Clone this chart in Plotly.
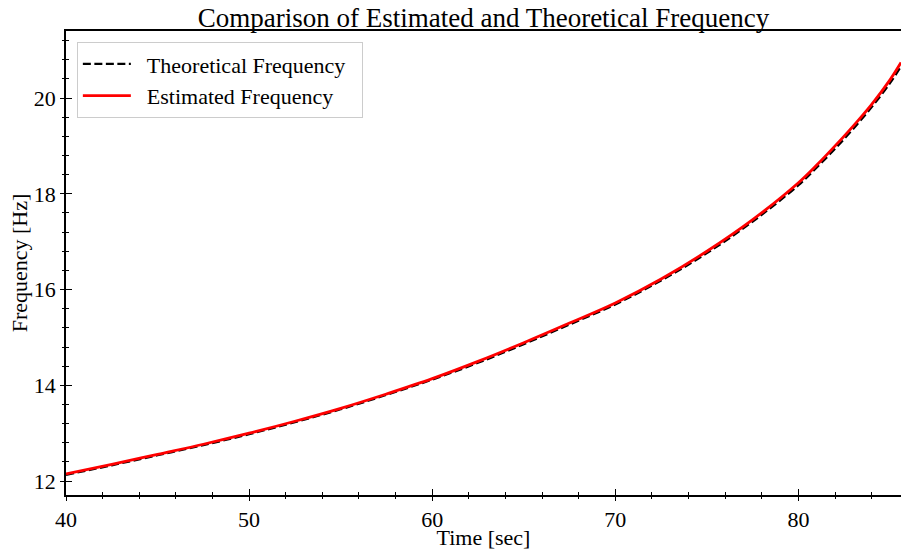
import plotly.graph_objects as go

time_s = [40, 42.5, 45, 47.5, 50, 52.5, 55, 57.5, 60, 62.5, 65, 67.5, 70,
          72.5, 75, 77.5, 80, 81, 82, 83, 84, 85, 85.6]
estimated_hz = [12.15, 12.35, 12.56, 12.77, 13.00, 13.25, 13.52, 13.82, 14.14,
                14.50, 14.89, 15.30, 15.72, 16.22, 16.80, 17.46, 18.23, 18.60,
                19.00, 19.42, 19.87, 20.38, 20.74]
theoretical_hz = [12.13, 12.33, 12.54, 12.75, 12.98, 13.23, 13.50, 13.80, 14.12,
                  14.47, 14.86, 15.27, 15.69, 16.19, 16.76, 17.42, 18.18, 18.55,
                  18.94, 19.36, 19.81, 20.31, 20.66]
series_names = ["Theoretical Frequency", "Estimated Frequency"]

FONT = "Liberation Serif"
SP = "\u2002"

fig = go.Figure()
fig.add_trace(go.Scatter(x=time_s, y=theoretical_hz, mode="lines",
                         name=SP + series_names[0] + SP, line_shape="spline",
                         line=dict(color="black", width=2.2, dash="8px,3.5px")))
fig.add_trace(go.Scatter(x=time_s, y=estimated_hz, mode="lines",
                         name=SP + series_names[1] + SP, line_shape="spline",
                         line=dict(color="#ff0000", width=2.8)))
# invisible trace to carry secondary (inside tick) axes
fig.add_trace(go.Scatter(x=[time_s[0]], y=[estimated_hz[0]], xaxis="x2", yaxis="y2",
                         mode="markers", marker=dict(opacity=0), showlegend=False,
                         hoverinfo="skip"))

xr = [40, 85.6]
yr = [11.71, 21.4]

fig.update_layout(
    width=901, height=550,
    margin=dict(l=66, r=0, t=31, b=55),
    paper_bgcolor="white", plot_bgcolor="white",
    font=dict(family=FONT, size=22, color="black"),
    title=dict(text="Comparison of Estimated and Theoretical Frequency",
               x=(66 + 901) / 2 / 901, xanchor="center", y=0.985, yanchor="top",
               font=dict(family=FONT, size=27, color="black")),
    xaxis=dict(range=xr, showgrid=False, zeroline=False, showline=True,
               linecolor="black", linewidth=1.5, mirror=True,
               ticks="outside", ticklen=4, tickwidth=1, tickcolor="black",
               dtick=10, tick0=40,
               minor=dict(dtick=2, ticks="outside", ticklen=2, tickcolor="black"),
               title=dict(text="Time [sec]", standoff=0,
                          font=dict(family=FONT, size=22))),
    yaxis=dict(range=yr, showgrid=False, zeroline=False, showline=True,
               linecolor="black", linewidth=1.5,
               ticks="outside", ticklen=4, tickwidth=1, tickcolor="black",
               dtick=2, tick0=12,
               minor=dict(dtick=0.4, tick0=12, ticks="outside", ticklen=2, tickcolor="black"),
               title=dict(text="Frequency [Hz]", standoff=0,
                          font=dict(family=FONT, size=22))),
    xaxis2=dict(range=xr, overlaying="x", anchor="y", side="bottom",
                showgrid=False, zeroline=False, showline=False,
                ticks="inside", ticklen=6, tickwidth=1, tickcolor="black",
                dtick=10, tick0=40, showticklabels=False,
                minor=dict(dtick=2, ticks="inside", ticklen=3, tickcolor="black")),
    yaxis2=dict(range=yr, overlaying="y", anchor="x", side="left",
                showgrid=False, zeroline=False, showline=False,
                ticks="inside", ticklen=6, tickwidth=1, tickcolor="black",
                dtick=2, tick0=12, showticklabels=False,
                minor=dict(dtick=0.4, tick0=12, ticks="inside", ticklen=3, tickcolor="black")),
    legend=dict(x=0.013, y=0.976, xanchor="left", yanchor="top",
                bgcolor="white", bordercolor="#cccccc", borderwidth=1,
                font=dict(family=FONT, size=22), tracegroupgap=0,
                itemwidth=48),
    showlegend=True,
)

fig.write_html("out.html")
